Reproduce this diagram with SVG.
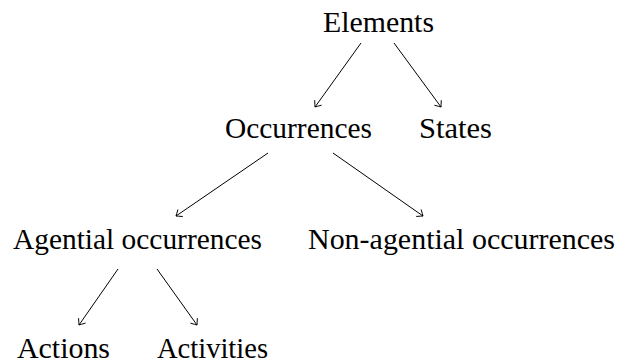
<svg xmlns="http://www.w3.org/2000/svg" width="619" height="363" viewBox="0 0 619 363">
<style>
.lbl{font-family:"Liberation Serif","DejaVu Serif",serif;font-size:29px;fill:#000;text-anchor:middle}
.edge{stroke:#000;stroke-width:1;fill:none;marker-end:url(#to)}
</style>
<defs>
<marker id="to" viewBox="-6 -5 8 10" refX="0" refY="0" markerWidth="8" markerHeight="10" markerUnits="userSpaceOnUse" orient="auto">
<path d="M -5 -4 Q -1.5 -1.2 0 0 Q -1.5 1.2 -5 4" stroke="#000" stroke-width="0.9" fill="none" stroke-linecap="round"/>
</marker>
</defs>
<rect width="619" height="363" fill="#fff"/>
<g id="connectors">
<line class="edge" x1="361" y1="43" x2="315" y2="107"/>
<line class="edge" x1="394" y1="43" x2="441" y2="107"/>
<line class="edge" x1="268" y1="153" x2="176" y2="216"/>
<line class="edge" x1="333" y1="153" x2="423" y2="216"/>
<line class="edge" x1="118" y1="269" x2="79" y2="325"/>
<line class="edge" x1="157" y1="269" x2="197" y2="325"/>
</g>
<g id="elements"><text class="lbl" x="378.5" y="32" textLength="111" lengthAdjust="spacingAndGlyphs">Elements</text></g>
<g id="occurrences"><text class="lbl" x="298.5" y="138" textLength="147" lengthAdjust="spacingAndGlyphs">Occurrences</text></g>
<g id="states"><text class="lbl" x="455.5" y="138" textLength="73" lengthAdjust="spacingAndGlyphs">States</text></g>
<g id="agential"><text class="lbl" x="137.5" y="249" textLength="249" lengthAdjust="spacingAndGlyphs">Agential occurrences</text></g>
<g id="nonagential"><text class="lbl" x="461.5" y="249" textLength="307" lengthAdjust="spacingAndGlyphs">Non-agential occurrences</text></g>
<g id="actions"><text class="lbl" x="63.5" y="358" textLength="93" lengthAdjust="spacingAndGlyphs">Actions</text></g>
<g id="activities"><text class="lbl" x="212.5" y="358" textLength="111" lengthAdjust="spacingAndGlyphs">Activities</text></g>
</svg>
